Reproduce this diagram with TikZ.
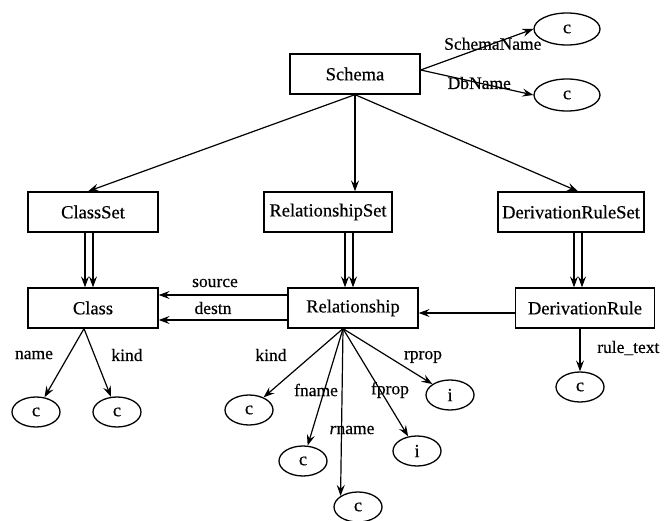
\documentclass[tikz,border=0pt]{standalone}
\usepackage{fontspec}
\setmainfont[FakeBold=0.4]{Liberation Serif}
\usetikzlibrary{arrows.meta,shapes.geometric,calc}
\tikzset{
  box/.style={draw, line width=1.3pt, minimum height=40pt, inner sep=2pt, font=\fontsize{18.5}{20}\selectfont},
  leaf/.style={draw, ellipse, line width=1.3pt, minimum width=48pt, minimum height=30pt, inner sep=0pt, font=\fontsize{18.5}{20}\selectfont},
  arr/.style={line width=1.2pt, -{Stealth[length=11pt,width=8pt,inset=4pt]}},
  lab/.style={font=\fontsize{17.5}{19}\selectfont, inner sep=0pt}
}
\begin{document}
\begin{tikzpicture}[x=1pt,y=-1pt]
\useasboundingbox (0,0) rectangle (669,521);
% boxes
\node[box, minimum width=130pt] (schema) at (355,74) {Schema};
\node[box, minimum width=130pt] (classset) at (93,212) {ClassSet};
\node[box, minimum width=128pt] (relset) at (328,212) {RelationshipSet};
\node[box, minimum width=146pt] (drset) at (571,212) {DerivationRuleSet};
\node[box, minimum width=130pt] (class) at (93,308) {Class};
\node[box, minimum width=130pt] (rel) at (353,308) {Relationship};
\node[box, minimum width=139pt] (dr) at (585,308) {DerivationRule};
% leaves
\node[leaf, minimum width=66pt, minimum height=32pt] (sn) at (567,29) {c};
\node[leaf, minimum width=66pt, minimum height=32pt] (dn) at (567,95) {c};
\node[leaf] (cname) at (36,412) {c};
\node[leaf] (ckind) at (117,412) {c};
\node[leaf] (rkind) at (249,410) {c};
\node[leaf] (rfname) at (303,461) {c};
\node[leaf] (rrname) at (358,507) {c};
\node[leaf] (rfprop) at (417,451) {i};
\node[leaf] (rrprop) at (450,395) {i};
\node[leaf] (rt) at (580,387) {c};
% schema edges
\draw[arr] (schema.south) -- ([xshift=-5pt]classset.north);
\draw[arr] (schema.south) -- (schema.south |- relset.north);
\draw[arr] (schema.south) -- ([xshift=7pt]drset.north);
\draw[arr] ([yshift=4pt]schema.east) -- node[lab, pos=0.64] {SchemaName} (sn.west);
\draw[arr] ([yshift=4pt]schema.east) -- node[lab, pos=0.52] {DbName} (dn.west);
% double (set) edges
\draw[arr] ($(classset.south)+(-8,0)$) -- ($(class.north)+(-8,0)$);
\draw[arr] (classset.south) -- (class.north);
\draw[arr] ($(relset.south -| rel.north)+(-8,0)$) -- ($(rel.north)+(-8,0)$);
\draw[arr] (relset.south -| rel.north) -- (rel.north);
\draw[arr] ($(drset.south)+(3,0)$) -- ($(dr.north)+(-11,0)$);
\draw[arr] ($(drset.south)+(11,0)$) -- ($(dr.north)+(-3,0)$);
% relationship to class
\draw[arr] ([yshift=13pt]rel.west) -- ([yshift=13pt]class.east);
\draw[arr] ([yshift=-12pt]rel.west) -- ([yshift=-12pt]class.east);
\node[lab] (lsource) at (215,283) {source};
\node[lab] (ldestn) at (213,308) {destn};
\draw[arr] ([yshift=-5pt]dr.west) -- ([yshift=-5pt]rel.east);
% derivation rule attribute
\draw[arr] ([xshift=-5pt]dr.south) -- (rt.north);
\node[lab, anchor=west] (lrt) at (597,348) {rule\_text};
% class attributes
\coordinate (co) at ([xshift=-9pt]class.south);
\draw[arr] (co) -- (cname);
\draw[arr] (co) -- (ckind);
\node[lab] (lname) at (34,355) {name};
\node[lab] (lckind) at (127,355) {kind};
% relationship attributes
\coordinate (ro) at ([xshift=-10pt]rel.south);
\draw[arr] (ro) -- (rkind);
\draw[arr] (ro) -- (rfname);
\draw[arr] (ro) -- (rrname.north west);
\draw[arr] (ro) -- (rfprop);
\draw[arr] (ro) -- (rrprop);
\node[lab] (lrkind) at (271,355) {kind};
\node[lab] (lfname) at (316,390) {fname};
\node[lab] (lrname) at (352,430) {\textit{r}name};
\node[lab] (lfprop) at (390,390) {fprop};
\node[lab] (lrprop) at (423,357) {rprop};
\end{tikzpicture}
\end{document}
